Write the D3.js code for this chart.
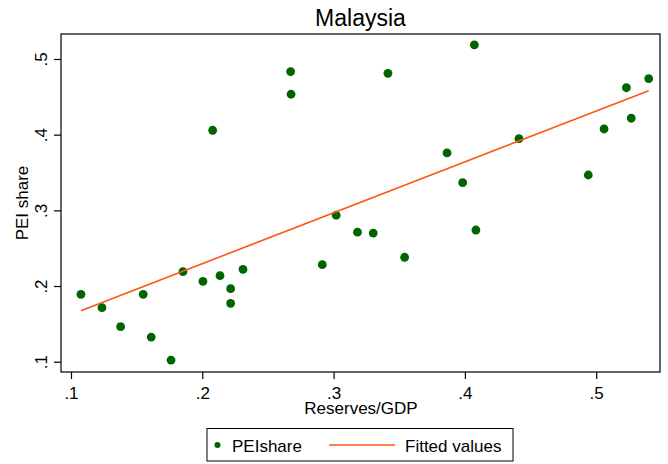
<!DOCTYPE html>
<html>
<head>
<meta charset="utf-8">
<script src="https://cdn.jsdelivr.net/npm/d3@7"></script>
<style>
  html, body { margin: 0; padding: 0; background: #fff; }
  svg { display: block; font-family: "Liberation Sans", Arial, Helvetica, sans-serif; }
</style>
</head>
<body>
<svg id="chart" width="668" height="464"></svg>
<script>
// ---- data ----
const reservesGDP = [0.1076, 0.1236, 0.1378, 0.1550, 0.1611, 0.1762, 0.1853, 0.2005, 0.2135, 0.2216,
                     0.2216, 0.2310, 0.2079, 0.2673, 0.2676, 0.2914, 0.3020, 0.3182, 0.3302, 0.3414,
                     0.3541, 0.3864, 0.3983, 0.4072, 0.4084, 0.4412, 0.4940, 0.5060, 0.5230, 0.5267, 0.5400];
const peiShare    = [0.189, 0.1714, 0.1463, 0.189, 0.1326, 0.1022, 0.219, 0.2062, 0.2137, 0.1965,
                     0.1772, 0.2221, 0.4058, 0.4833, 0.4534, 0.2282, 0.2935, 0.2711, 0.270, 0.4811,
                     0.238, 0.3758, 0.3366, 0.5185, 0.274, 0.3947, 0.3467, 0.4075, 0.462, 0.4217, 0.474];
const fittedX = [0.1076, 0.5400];
const fittedY = [0.1674, 0.4581];
const xTicks = [0.1, 0.2, 0.3, 0.4, 0.5];
const xTickLabels = [".1", ".2", ".3", ".4", ".5"];
const yTicks = [0.1, 0.2, 0.3, 0.4, 0.5];
const yTickLabels = [".1", ".2", ".3", ".4", ".5"];
const titleText = "Malaysia";
const xTitle = "Reserves/GDP";
const yTitle = "PEI share";
const legendLabels = ["PEIshare", "Fitted values"];

// ---- layout ----
const svg = d3.select("#chart");
const plot = { left: 61, right: 660, top: 34, bottom: 372 };
const green = "#006400";
const orange = "#ff5514";

const x = d3.scaleLinear().domain([0.0924, 0.5486]).range([plot.left, plot.right]);
const y = d3.scaleLinear().domain([0.0864, 0.5330]).range([plot.bottom, plot.top]);

// title
svg.append("text").attr("x", 360.5).attr("y", 26).attr("text-anchor", "middle")
  .attr("font-size", 23).attr("fill", "#000").text(titleText);

// plot frame
svg.append("rect").attr("x", plot.left).attr("y", plot.top)
  .attr("width", plot.right - plot.left).attr("height", plot.bottom - plot.top)
  .attr("fill", "none").attr("stroke", "#000").attr("stroke-width", 1.2);

// x axis
const xAxis = d3.axisBottom(x).tickValues(xTicks)
  .tickFormat((d, i) => xTickLabels[i]).tickSize(7).tickPadding(5);
const gx = svg.append("g").attr("transform", `translate(0,${plot.bottom})`).call(xAxis);
gx.select(".domain").remove();
gx.selectAll(".tick line").attr("stroke", "#000").attr("stroke-width", 1.2);
gx.selectAll(".tick text").attr("font-size", 17).attr("fill", "#000")
  .attr("font-family", "Liberation Sans, Arial, sans-serif").attr("dy", null).attr("y", 27);

// y axis
const yAxis = d3.axisLeft(y).tickValues(yTicks)
  .tickFormat((d, i) => yTickLabels[i]).tickSize(7);
const gy = svg.append("g").attr("transform", `translate(${plot.left},0)`).call(yAxis);
gy.select(".domain").remove();
gy.selectAll(".tick line").attr("stroke", "#000").attr("stroke-width", 1.2);
gy.selectAll(".tick text").attr("font-size", 17).attr("fill", "#000")
  .attr("font-family", "Liberation Sans, Arial, sans-serif")
  .attr("x", null).attr("dy", null).attr("text-anchor", "middle")
  .attr("transform", "translate(-14,0) rotate(-90)");

// axis titles
svg.append("text").attr("x", 361).attr("y", 414).attr("text-anchor", "middle")
  .attr("font-size", 17).attr("fill", "#000").text(xTitle);
svg.append("text").attr("transform", "translate(28,203) rotate(-90)").attr("text-anchor", "middle")
  .attr("font-size", 17).attr("fill", "#000").text(yTitle);

// points
svg.append("g").selectAll("circle").data(reservesGDP).join("circle")
  .attr("cx", d => x(d)).attr("cy", (d, i) => y(peiShare[i]))
  .attr("r", 4.4).attr("fill", green);

// fitted line
const line = d3.line().x(d => x(d[0])).y(d => y(d[1]));
svg.append("path").datum(fittedX.map((v, i) => [v, fittedY[i]]))
  .attr("d", line).attr("fill", "none").attr("stroke", orange).attr("stroke-width", 1.6);

// legend
const lg = svg.append("g");
lg.append("rect").attr("x", 207).attr("y", 428.5).attr("width", 306).attr("height", 32.5)
  .attr("fill", "#fff").attr("stroke", "#000").attr("stroke-width", 1);
lg.append("circle").attr("cx", 217.5).attr("cy", 445).attr("r", 3).attr("fill", green);
lg.append("text").attr("x", 232).attr("y", 451.5).attr("font-size", 17).attr("fill", "#000").text(legendLabels[0]);
lg.append("line").attr("x1", 329).attr("x2", 395).attr("y1", 445).attr("y2", 445)
  .attr("stroke", orange).attr("stroke-width", 1.6);
lg.append("text").attr("x", 405).attr("y", 451.5).attr("font-size", 17).attr("fill", "#000").text(legendLabels[1]);
</script>
</body>
</html>
